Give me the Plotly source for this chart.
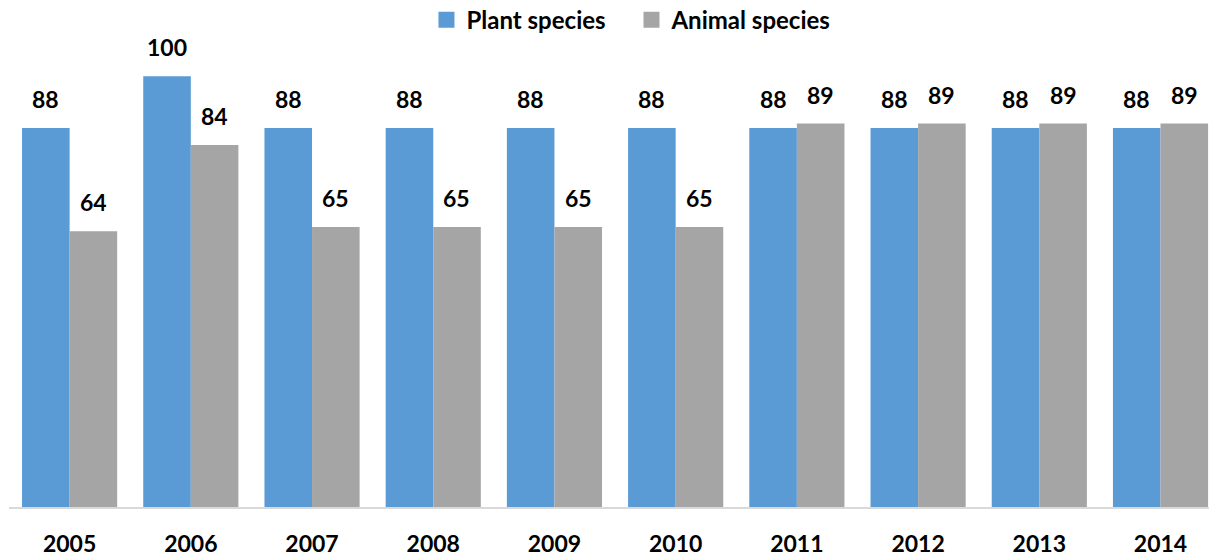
import plotly.graph_objects as go

years = ["2005", "2006", "2007", "2008", "2009", "2010", "2011", "2012", "2013", "2014"]
plant = [88, 100, 88, 88, 88, 88, 88, 88, 88, 88]
animal = [64, 84, 65, 65, 65, 65, 89, 89, 89, 89]
series_names = ["Plant species", "Animal species"]

BLUE = "#5B9BD5"
GRAY = "#A5A5A5"
FONT = "Lato"

fig = go.Figure()
for name, vals, col in ((series_names[0], plant, BLUE), (series_names[1], animal, GRAY)):
    fig.add_trace(go.Bar(name=name, x=years, y=vals, showlegend=False,
                         marker=dict(color=col, line=dict(width=0))))
# legend entries with larger square swatches
for name, col in ((series_names[0], BLUE), (series_names[1], GRAY)):
    fig.add_trace(go.Scatter(name=name, x=[None], y=[None], mode="markers",
                             marker=dict(symbol="square", size=17, color=col), showlegend=True))

half = 23.75
for vals, shift in ((plant, -half), (animal, half)):
    for i, v in enumerate(vals):
        fig.add_annotation(x=i, y=v, text=str(v), showarrow=False, xref="x", yref="y",
                           xshift=shift, yshift=13, yanchor="bottom",
                           font=dict(family=FONT, size=23, color="#000000", weight="bold"))

fig.update_layout(
    width=1209, height=557,
    margin=dict(l=9, r=0, t=40, b=50, autoexpand=False),
    paper_bgcolor="white", plot_bgcolor="white",
    barmode="group", bargap=0.215, bargroupgap=0,
    font=dict(family=FONT, size=23, color="#000000", weight="bold"),
    legend=dict(orientation="h", x=0.3479, xanchor="left", yref="container", y=0.964, yanchor="middle",
                font=dict(family=FONT, size=24, color="#000000", weight="bold"),
                entrywidth=160, entrywidthmode="pixels", traceorder="normal"),
    xaxis=dict(type="category", range=[-0.5, 9.40], showline=True, linecolor="#D9D9D9", linewidth=2,
               ticks="", showgrid=False, ticklabelstandoff=15, automargin=False,
               tickfont=dict(family=FONT, size=23, color="#000000", weight="bold")),
    yaxis=dict(range=[0, 108.4], visible=False, showgrid=False, zeroline=False),
)

fig.write_html("out.html", config={"displayModeBar": False},
               post_script="document.body.style.margin='0';document.body.style.overflow='hidden';")
